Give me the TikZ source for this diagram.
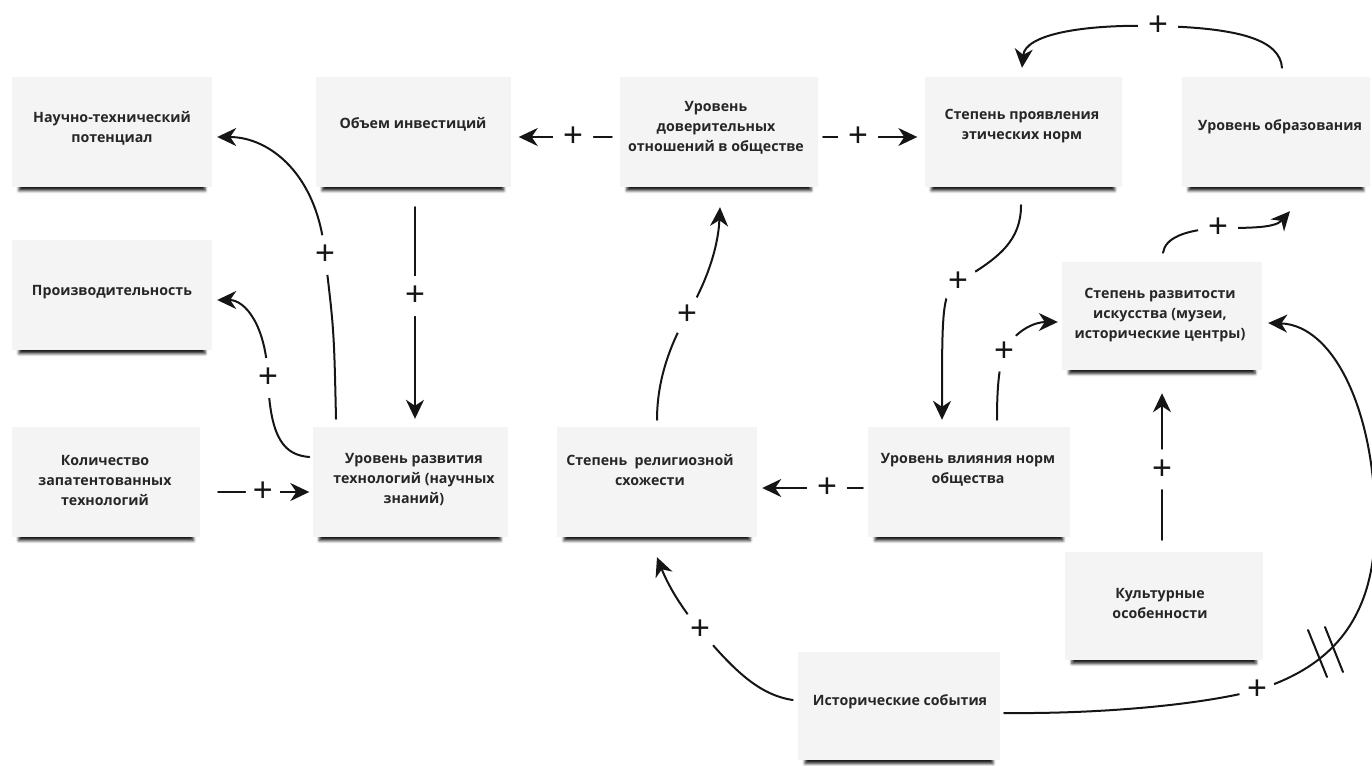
\documentclass[tikz,border=0pt]{standalone}
\usepackage{fontspec}
\setmainfont{Open Sans}
\newfontfamily\plusfont{Liberation Sans}
\usetikzlibrary{arrows.meta,shadows.blur,calc}
\definecolor{cardfill}{HTML}{F4F4F4}
\definecolor{cardtext}{HTML}{262626}
\definecolor{ink}{HTML}{151515}
\begin{document}
\begin{tikzpicture}[x=1pt,y=-1pt,
  card/.style={fill=cardfill, draw=none, minimum width=#1, minimum height=110pt, inner sep=0pt,
     blur shadow={shadow xshift=0pt, shadow yshift=-8pt, shadow scale=0.93, shadow opacity=90, shadow blur radius=3pt}},
  card/.default=200pt,
  lbl/.style={font=\bfseries\fontsize{14.2}{20}\selectfont, text=cardtext, align=center, inner sep=0pt},
  conn/.style={draw=ink, line width=2pt, line cap=round},
  arr/.style={-{Stealth[length=19pt,width=18pt,inset=6pt]}},
  pl/.style={font=\plusfont\fontsize{34}{34}\selectfont, fill=white, circle, inner sep=0pt, minimum size=40pt, text=ink},
]
\useasboundingbox (0,0) rectangle (1372,765);

% cards
\node[card=200pt] (A) at (112,132) {};
\node[card=195pt] (B) at (413,132) {};
\node[card=198pt] (C) at (719,132) {};
\node[card=197pt] (D) at (1023,132) {};
\node[card=188pt] (E) at (1276,132) {};
\node[card=200pt] (F) at (112,295) {};
\node[card=200pt, minimum height=108pt] (G) at (1162,316) {};
\node[card=188pt] (H) at (106,482) {};
\node[card=195pt] (I) at (410,482) {};
\node[card=200pt] (J) at (657,482) {};
\node[card=202pt] (K) at (969,482) {};
\node[card=198pt, minimum height=108pt] (L) at (1164,606) {};
\node[card=202pt, minimum height=108pt] (M) at (899,706) {};

% texts
\node[lbl] (At) at (112,128) {Научно-технический\\потенциал};
\node[lbl] (Bt) at (413,124) {Объем инвестиций};
\node[lbl] (Ct) at (716,128) {Уровень\\доверительных\\отношений в обществе};
\node[lbl] (Dt) at (1022,126) {Степень проявления\\этических норм};
\node[lbl] (Et) at (1280,127) {Уровень образования};
\node[lbl] (Ft) at (112,292) {Производительность};
\node[lbl] (Gt) at (1160,315) {Степень развитости\\искусства (музеи,\\исторические центры)};
\node[lbl] (Ht) at (105,480) {Количество\\запатентованных\\технологий};
\node[lbl] (It) at (414,480) {Уровень развития\\технологий (научных\\знаний)};
\node[lbl] (Jt) at (650,470) {Степень\ \ религиозной\\схожести};
\node[lbl] (Kt) at (968,470) {Уровень влияния норм\\общества};
\node[lbl] (Lt) at (1160,603) {Культурные\\особенности};
\node[lbl] (Mt) at (900,702) {Исторические события};

% connectors
% I -> A
\draw[conn,arr] ($(I.north)+(-74,-8)$) .. controls (334,330) .. (325,255) node[pl]{+}
   .. controls (318,175) and (270,137) .. ($(A.east)+(5,5)$);
% I -> F
\draw[conn,arr] ($(I.west)+(-3,-25)$) .. controls (285,455) and (270,440) .. (268,378) node[pl]{+}
   .. controls (266,325) and (245,300) .. ($(F.east)+(5,5)$);
% B -> I
\draw[conn,arr] ($(B.south)+(2,20)$) -- node[pl,pos=0.42]{+} ($(I.north)+(5,-8)$);
% C -> B
\draw[conn,arr] ($(C.west)+(-8,5)$) -- node[pl,pos=0.415]{+} ($(B.east)+(8,5)$);
% C -> D
\draw[conn,arr] ($(C.east)+(5,5)$) -- node[pl,pos=0.37]{+} ($(D.west)+(-7,5)$);
% J -> C
\draw[conn,arr] ($(J.north)+(0,-7)$) .. controls (657,380) and (670,345) .. (687,315) node[pl]{+}
   .. controls (705,285) and (718,250) .. ($(C.south)+(1,20)$);
% E -> D
\draw[conn,arr] ($(E.north)+(6,-9)$) .. controls (1280,40) and (1240,28) .. (1158,26) node[pl]{+}
   .. controls (1080,24) and (1025,35) .. ($(D.north)+(-1,-9)$);
% D -> K
\draw[conn,arr] ($(D.south)+(-2,18)$) .. controls (1021,240) and (1000,258) .. (958,282) node[pl]{+}
   .. controls (942,292) and (942,310) .. ($(K.north)+(-27,-7)$);
% K -> G
\draw[conn,arr] ($(K.north)+(28,-7)$) .. controls (997,395) and (998,370) .. (1004,352) node[pl]{+}
   .. controls (1015,330) and (1035,322) .. ($(G.west)+(-4,6)$);
% G -> E
\draw[conn,arr] ($(G.north)+(1,-9)$) .. controls (1165,238) and (1185,230) .. (1218,228) node[pl]{+}
   .. controls (1250,228) and (1275,228) .. ($(E.south)+(14,24)$);
% L -> G
\draw[conn,arr] ($(L.north)+(-2,-12)$) -- node[pl,pos=0.48]{+} ($(G.south)+(0,23)$);
% K -> J
\draw[conn,arr] ($(K.west)+(-5,6)$) -- node[pl,pos=0.356]{+} ($(J.east)+(5,6)$);
% M -> J
\draw[conn,arr] ($(M.west)+(-5,-6)$) .. controls (760,695) and (735,672) .. (700,630) node[pl]{+}
   .. controls (685,612) and (670,590) .. ($(J.south)+(0,20)$);
% M -> G
\draw[conn,arr] ($(M.east)+(4,7)$) .. controls (1100,714) and (1200,705) .. (1257,690) node[pl,minimum size=36pt]{+}
   .. controls (1335,666) and (1375,615) .. (1375,525)
   .. controls (1376,415) and (1335,325) .. ($(G.east)+(6,7)$);
% delay marks
\draw[conn] (1308,630) -- (1327,677);
\draw[conn] (1325,627) -- (1343,672);
% H -> I
\draw[conn,arr] ($(H.east)+(18,10)$) -- node[pl,pos=0.49,minimum size=34pt]{+} ($(I.west)+(-3,10)$);
\end{tikzpicture}
\end{document}
